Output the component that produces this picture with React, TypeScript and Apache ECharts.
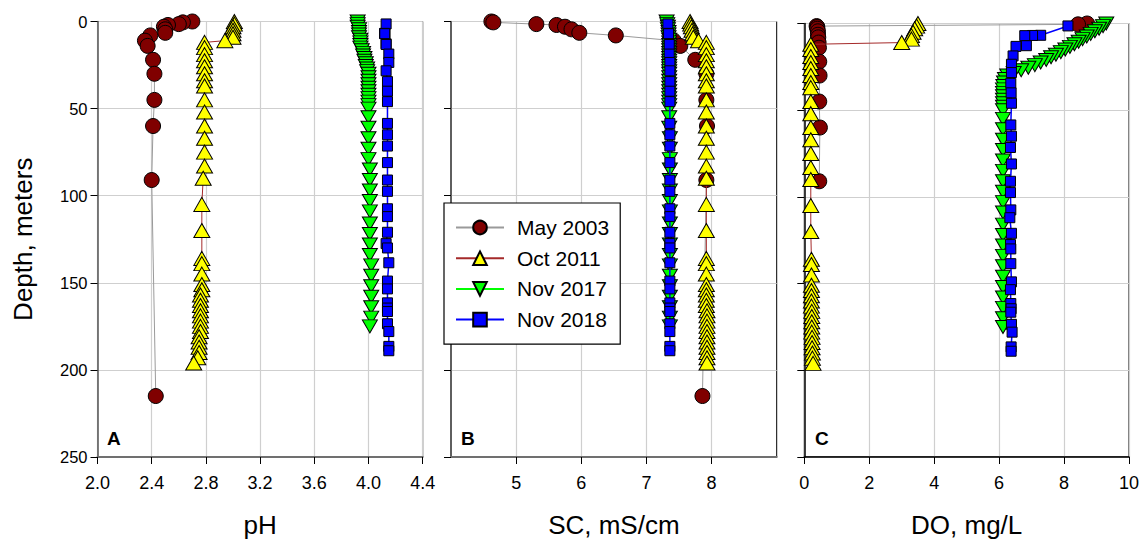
import React, { useEffect, useRef } from 'react';
import * as echarts from 'echarts';

const FONT = '"Liberation Sans", Arial, Helvetica, sans-serif';

// ---------- data ----------
const names = ['May 2003', 'Oct 2011', 'Nov 2017', 'Nov 2018'];

// May 2003
const mayDepth = [0, 0.5, 1.5, 2, 3, 4.5, 6.5, 8, 11, 14, 22, 30, 45, 60, 91, 215];
const mayPH = [2.70, 2.63, 2.60, 2.52, 2.49, 2.50, 2.50, 2.39, 2.35, 2.37, 2.41, 2.42, 2.42, 2.41, 2.40, 2.43];
const maySC = [4.62, 4.65, 5.31, 5.62, 5.75, 5.85, 5.97, 6.53, 7.42, 7.52, 7.75, 7.92, 7.92, 7.93, 7.92, 7.86];
const mayDO = [8.71, 8.43, 0.38, 0.40, 0.40, 0.42, 0.42, 0.43, 0.44, 0.45, 0.46, 0.47, 0.46, 0.48, 0.46, null];

// Oct 2011
const octDepth = [0, 1.5, 3, 5, 7, 9, 11, 12, 15, 19, 22.5, 26, 30, 34, 37, 45, 52, 60, 67, 75, 83, 90, 105, 120, 136, 139, 145, 151, 154, 157, 160, 163, 166, 169, 172, 175, 178, 181, 184, 187, 190, 193, 196];
const octPH = [3.01, 3.01, 3.00, 3.00, 3.00, 3.00, 2.94, 2.79, 2.79, 2.79, 2.79, 2.79, 2.79, 2.79, 2.79, 2.79, 2.79, 2.79, 2.79, 2.79, 2.79, 2.78, 2.77, 2.77, 2.77, 2.77, 2.77, 2.77, 2.77, 2.76, 2.76, 2.76, 2.76, 2.76, 2.76, 2.76, 2.76, 2.75, 2.75, 2.75, 2.75, 2.74, 2.71];
const octSC = [7.67, 7.68, 7.69, 7.70, 7.71, 7.72, 7.80, 7.92, 7.92, 7.92, 7.92, 7.92, 7.92, 7.92, 7.92, 7.92, 7.92, 7.92, 7.92, 7.92, 7.92, 7.92, 7.92, 7.92, 7.92, 7.92, 7.92, 7.92, 7.92, 7.92, 7.92, 7.92, 7.93, 7.93, 7.93, 7.93, 7.93, 7.93, 7.93, 7.93, 7.93, 7.93, 7.93];
const octDO = [3.50, 3.46, 3.40, 3.35, 3.30, 3.30, 3.00, 0.20, 0.20, 0.20, 0.20, 0.20, 0.20, 0.20, 0.20, 0.20, 0.20, 0.20, 0.20, 0.20, 0.20, 0.20, 0.20, 0.20, 0.22, 0.22, 0.22, 0.22, 0.22, 0.22, 0.22, 0.22, 0.23, 0.23, 0.23, 0.23, 0.23, 0.24, 0.24, 0.24, 0.25, 0.25, 0.27];

// Nov 2017
const n17Depth = [0, 1.5, 3, 4.5, 6, 7.5, 9, 10.5, 12, 13.5, 15, 16.5, 18, 19.5, 21, 22.5, 24, 25.5, 27, 28.5, 30, 32, 34, 36, 38, 40, 42, 44, 46, 48, 50, 55, 61, 67, 73, 79, 85, 91, 97, 103, 109, 116, 122, 128, 134, 140, 146, 152, 158, 164, 170, 175];
const n17PH = [3.92, 3.92, 3.92, 3.93, 3.93, 3.93, 3.93, 3.94, 3.94, 3.94, 3.94, 3.95, 3.96, 3.96, 3.97, 3.97, 3.98, 3.98, 3.99, 3.99, 4.00, 4.00, 4.00, 4.00, 4.00, 4.00, 4.00, 4.00, 4.00, 4.00, 4.00, 4.00, 4.00, 4.00, 4.00, 4.00, 4.01, 4.01, 4.01, 4.01, 4.01, 4.01, 4.01, 4.01, 4.01, 4.02, 4.02, 4.02, 4.02, 4.02, 4.02, 4.01];
const n17SC = [7.31, 7.32, 7.33, 7.33, 7.34, 7.34, 7.34, 7.35, 7.35, 7.35, 7.35, 7.35, 7.35, 7.35, 7.35, 7.35, 7.35, 7.35, 7.35, 7.35, 7.35, 7.35, 7.35, 7.35, 7.35, 7.35, 7.35, 7.35, 7.35, 7.35, 7.35, 7.35, 7.35, 7.36, 7.36, 7.36, 7.36, 7.36, 7.36, 7.36, 7.36, 7.36, 7.36, 7.36, 7.36, 7.36, 7.36, 7.36, 7.36, 7.36, 7.36, 7.36];
const n17DO = [9.30, 9.20, 9.08, 8.95, 8.82, 8.70, 8.57, 8.45, 8.32, 8.18, 8.04, 7.90, 7.75, 7.60, 7.45, 7.28, 7.10, 6.90, 6.68, 6.45, 6.25, 6.18, 6.15, 6.13, 6.12, 6.12, 6.12, 6.12, 6.12, 6.12, 6.12, 6.12, 6.12, 6.12, 6.12, 6.12, 6.12, 6.12, 6.12, 6.12, 6.12, 6.12, 6.12, 6.12, 6.12, 6.12, 6.12, 6.12, 6.12, 6.12, 6.12, 6.12];

// Nov 2018
const n18Depth = [1.4, 6.8, 6.9, 7.0, 12.8, 13.2, 18.7, 23.5, 28.3, 34.5, 40, 46, 58.5, 65, 71.5, 81, 91, 97.5, 107.5, 112, 121, 127.5, 130, 138.5, 149, 153.5, 161.5, 164.5, 166.5, 173.5, 178, 186.5, 189];
const n18PH = [4.13, 4.12, 4.12, 4.12, 4.13, 4.13, 4.15, 4.15, 4.13, 4.14, 4.14, 4.14, 4.14, 4.14, 4.14, 4.14, 4.14, 4.14, 4.14, 4.14, 4.14, 4.13, 4.14, 4.15, 4.14, 4.14, 4.14, 4.14, 4.14, 4.14, 4.15, 4.15, 4.15];
const n18SC = [7.33, 7.34, 7.34, 7.34, 7.35, 7.35, 7.35, 7.36, 7.36, 7.36, 7.36, 7.36, 7.36, 7.36, 7.36, 7.36, 7.36, 7.36, 7.36, 7.36, 7.36, 7.36, 7.36, 7.36, 7.36, 7.36, 7.36, 7.36, 7.36, 7.36, 7.36, 7.36, 7.36];
const n18DO = [8.12, 7.28, 7.03, 6.79, 6.84, 6.52, 6.43, 6.38, 6.38, 6.36, 6.37, 6.38, 6.36, 6.38, 6.35, 6.38, 6.35, 6.35, 6.36, 6.33, 6.38, 6.35, 6.36, 6.36, 6.38, 6.35, 6.36, 6.37, 6.36, 6.38, 6.40, 6.37, 6.37];

const depthTicks = [0, 50, 100, 150, 200, 250];
const phTicks = [2.0, 2.4, 2.8, 3.2, 3.6, 4.0, 4.4];
const scTicks = [5, 6, 7, 8];
const doTicks = [0, 2, 4, 6, 8, 10];
const panelLetters = ['A', 'B', 'C'];
const axisTitles = ['pH', 'SC, mS/cm', 'DO, mg/L'];
const depthTitle = 'Depth, meters';

// ---------- styles ----------
const styles = [
  { symbol: 'circle', size: 15, fill: '#800000', line: '#9a9a9a', lw: 1, rot: 0 },
  { symbol: 'triangle', size: [16, 14], fill: '#ffff00', line: '#a52a2a', lw: 1, rot: 0 },
  { symbol: 'triangle', size: [15, 13], fill: '#00ff00', line: '#00ff00', lw: 1, rot: 180 },
  { symbol: 'rect', size: 10, fill: '#0000ff', line: '#0000ff', lw: 1.5, rot: 0 },
];

function pairs(vals: (number | null)[], depths: number[]) {
  const out: number[][] = [];
  vals.forEach((v, i) => {
    if (v !== null && v !== undefined) out.push([v, depths[i]]);
  });
  return out;
}

function mkSeries(name: string, idx: number, grid: number, vals: (number | null)[], depths: number[]) {
  const s = styles[idx];
  return {
    name,
    type: 'line',
    xAxisIndex: grid,
    yAxisIndex: grid,
    data: pairs(vals, depths),
    symbol: s.symbol,
    symbolSize: s.size,
    symbolRotate: s.rot,
    showSymbol: true,
    clip: false,
    z: 3 + idx,
    itemStyle: { color: s.fill, borderColor: '#000', borderWidth: 1, opacity: 1 },
    lineStyle: { color: s.line, width: s.lw },
    emphasis: { disabled: true },
  };
}

export default function App() {
  const ref = useRef<HTMLDivElement>(null);

  useEffect(() => {
    if (!ref.current) return;
    const chart = echarts.init(ref.current, null, { renderer: 'svg' });

    const grids = [
      { left: 97.5, right: 1142 - 422.7, top: 21.5, bottom: 543 - 460.5 },
      { left: 451, right: 1142 - 776.7, top: 21.5, bottom: 543 - 460.5 },
      { left: 804.3, right: 1142 - 1129.5, top: 23.5, bottom: 543 - 461.5 },
    ].map((g) => ({ ...g, show: true, borderColor: '#000', borderWidth: 1, backgroundColor: '#fff', containLabel: false }));

    const split = { show: true, lineStyle: { color: '#cfcfcf', width: 1.2 } };
    const baseX = {
      type: 'value',
      position: 'bottom',
      axisLine: { show: true, onZero: false, lineStyle: { color: '#707070', width: 2 } },
      axisTick: { show: true, length: 7, lineStyle: { color: '#000', width: 1 } },
      axisLabel: { show: true, fontSize: 18, color: '#000', fontFamily: FONT, margin: 17 },
      splitLine: split,
      nameLocation: 'middle',
      nameGap: 55,
      nameTextStyle: { fontSize: 26, color: '#000', fontFamily: FONT },
    };

    const xAxes = [
      {
        ...baseX, gridIndex: 0, min: 2.0, max: 4.4, interval: 0.4, name: axisTitles[0],
        axisLabel: { ...baseX.axisLabel, formatter: (v: number) => v.toFixed(1) },
        axisTick: { ...baseX.axisTick, customValues: phTicks },
      },
      {
        ...baseX, gridIndex: 1, min: 4, max: 9, interval: 1, name: axisTitles[1],
        axisLabel: { ...baseX.axisLabel, customValues: scTicks },
        axisTick: { ...baseX.axisTick, customValues: scTicks },
      },
      {
        ...baseX, gridIndex: 2, min: 0, max: 10, interval: 2, name: axisTitles[2],
        axisLabel: { ...baseX.axisLabel, customValues: doTicks },
        axisTick: { ...baseX.axisTick, customValues: doTicks },
        axisLine: { show: true, onZero: false, lineStyle: { color: '#000', width: 1.5 } },
      },
    ];

    const baseY = {
      type: 'value',
      inverse: true,
      min: 0,
      max: 250,
      interval: 50,
      axisLine: { show: true, onZero: false, lineStyle: { color: '#555', width: 1.5 } },
      axisTick: { show: true, length: 7, lineStyle: { color: '#000', width: 1 }, customValues: depthTicks },
      splitLine: split,
    };
    const yAxes = [
      {
        ...baseY, gridIndex: 0, name: depthTitle, nameLocation: 'middle', nameGap: 62,
        nameTextStyle: { fontSize: 26, color: '#000', fontFamily: FONT },
        axisLabel: { show: true, fontSize: 16.5, color: '#000', fontFamily: FONT, margin: 10 },
      },
      { ...baseY, gridIndex: 1, axisLabel: { show: false } },
      { ...baseY, gridIndex: 2, axisLabel: { show: false }, axisLine: { show: true, onZero: false, lineStyle: { color: '#000', width: 1.5 } } },
    ];

    const series = [
      mkSeries(names[0], 0, 0, mayPH, mayDepth),
      mkSeries(names[1], 1, 0, octPH, octDepth),
      mkSeries(names[2], 2, 0, n17PH, n17Depth),
      mkSeries(names[3], 3, 0, n18PH, n18Depth),
      mkSeries(names[0], 0, 1, maySC, mayDepth),
      mkSeries(names[1], 1, 1, octSC, octDepth),
      mkSeries(names[2], 2, 1, n17SC, n17Depth),
      mkSeries(names[3], 3, 1, n18SC, n18Depth),
      mkSeries(names[0], 0, 2, mayDO, mayDepth),
      mkSeries(names[1], 1, 2, octDO, octDepth),
      mkSeries(names[2], 2, 2, n17DO, n17Depth),
      mkSeries(names[3], 3, 2, n18DO, n18Depth),
    ];

    const letterPos = [107, 461, 815];
    const graphic = panelLetters.map((t, i) => ({
      type: 'text',
      left: letterPos[i],
      top: 429,
      z: 20,
      style: { text: t, font: `bold 19px ${FONT}`, fill: '#000' },
    }));

    chart.setOption({
      animation: false,
      backgroundColor: '#fff',
      grid: grids,
      xAxis: xAxes,
      yAxis: yAxes,
      series,
      graphic,
      legend: {
        data: names,
        orient: 'vertical',
        left: 444,
        top: 203,
        itemWidth: 48,
        itemHeight: 17,
        itemGap: 9.7,
        padding: [14, 11, 14, 11],
        borderColor: '#000',
        borderWidth: 1.2,
        backgroundColor: '#fff',
        selectedMode: false,
        z: 30,
        textStyle: { fontSize: 21, color: '#000', fontFamily: FONT, padding: [0, 0, 0, 8] },
      },
    });

    return () => chart.dispose();
  }, []);

  return (
    <div
      ref={ref}
      style={{ position: 'fixed', left: 0, top: 0, width: 1142, height: 543, background: '#fff' }}
    />
  );
}
